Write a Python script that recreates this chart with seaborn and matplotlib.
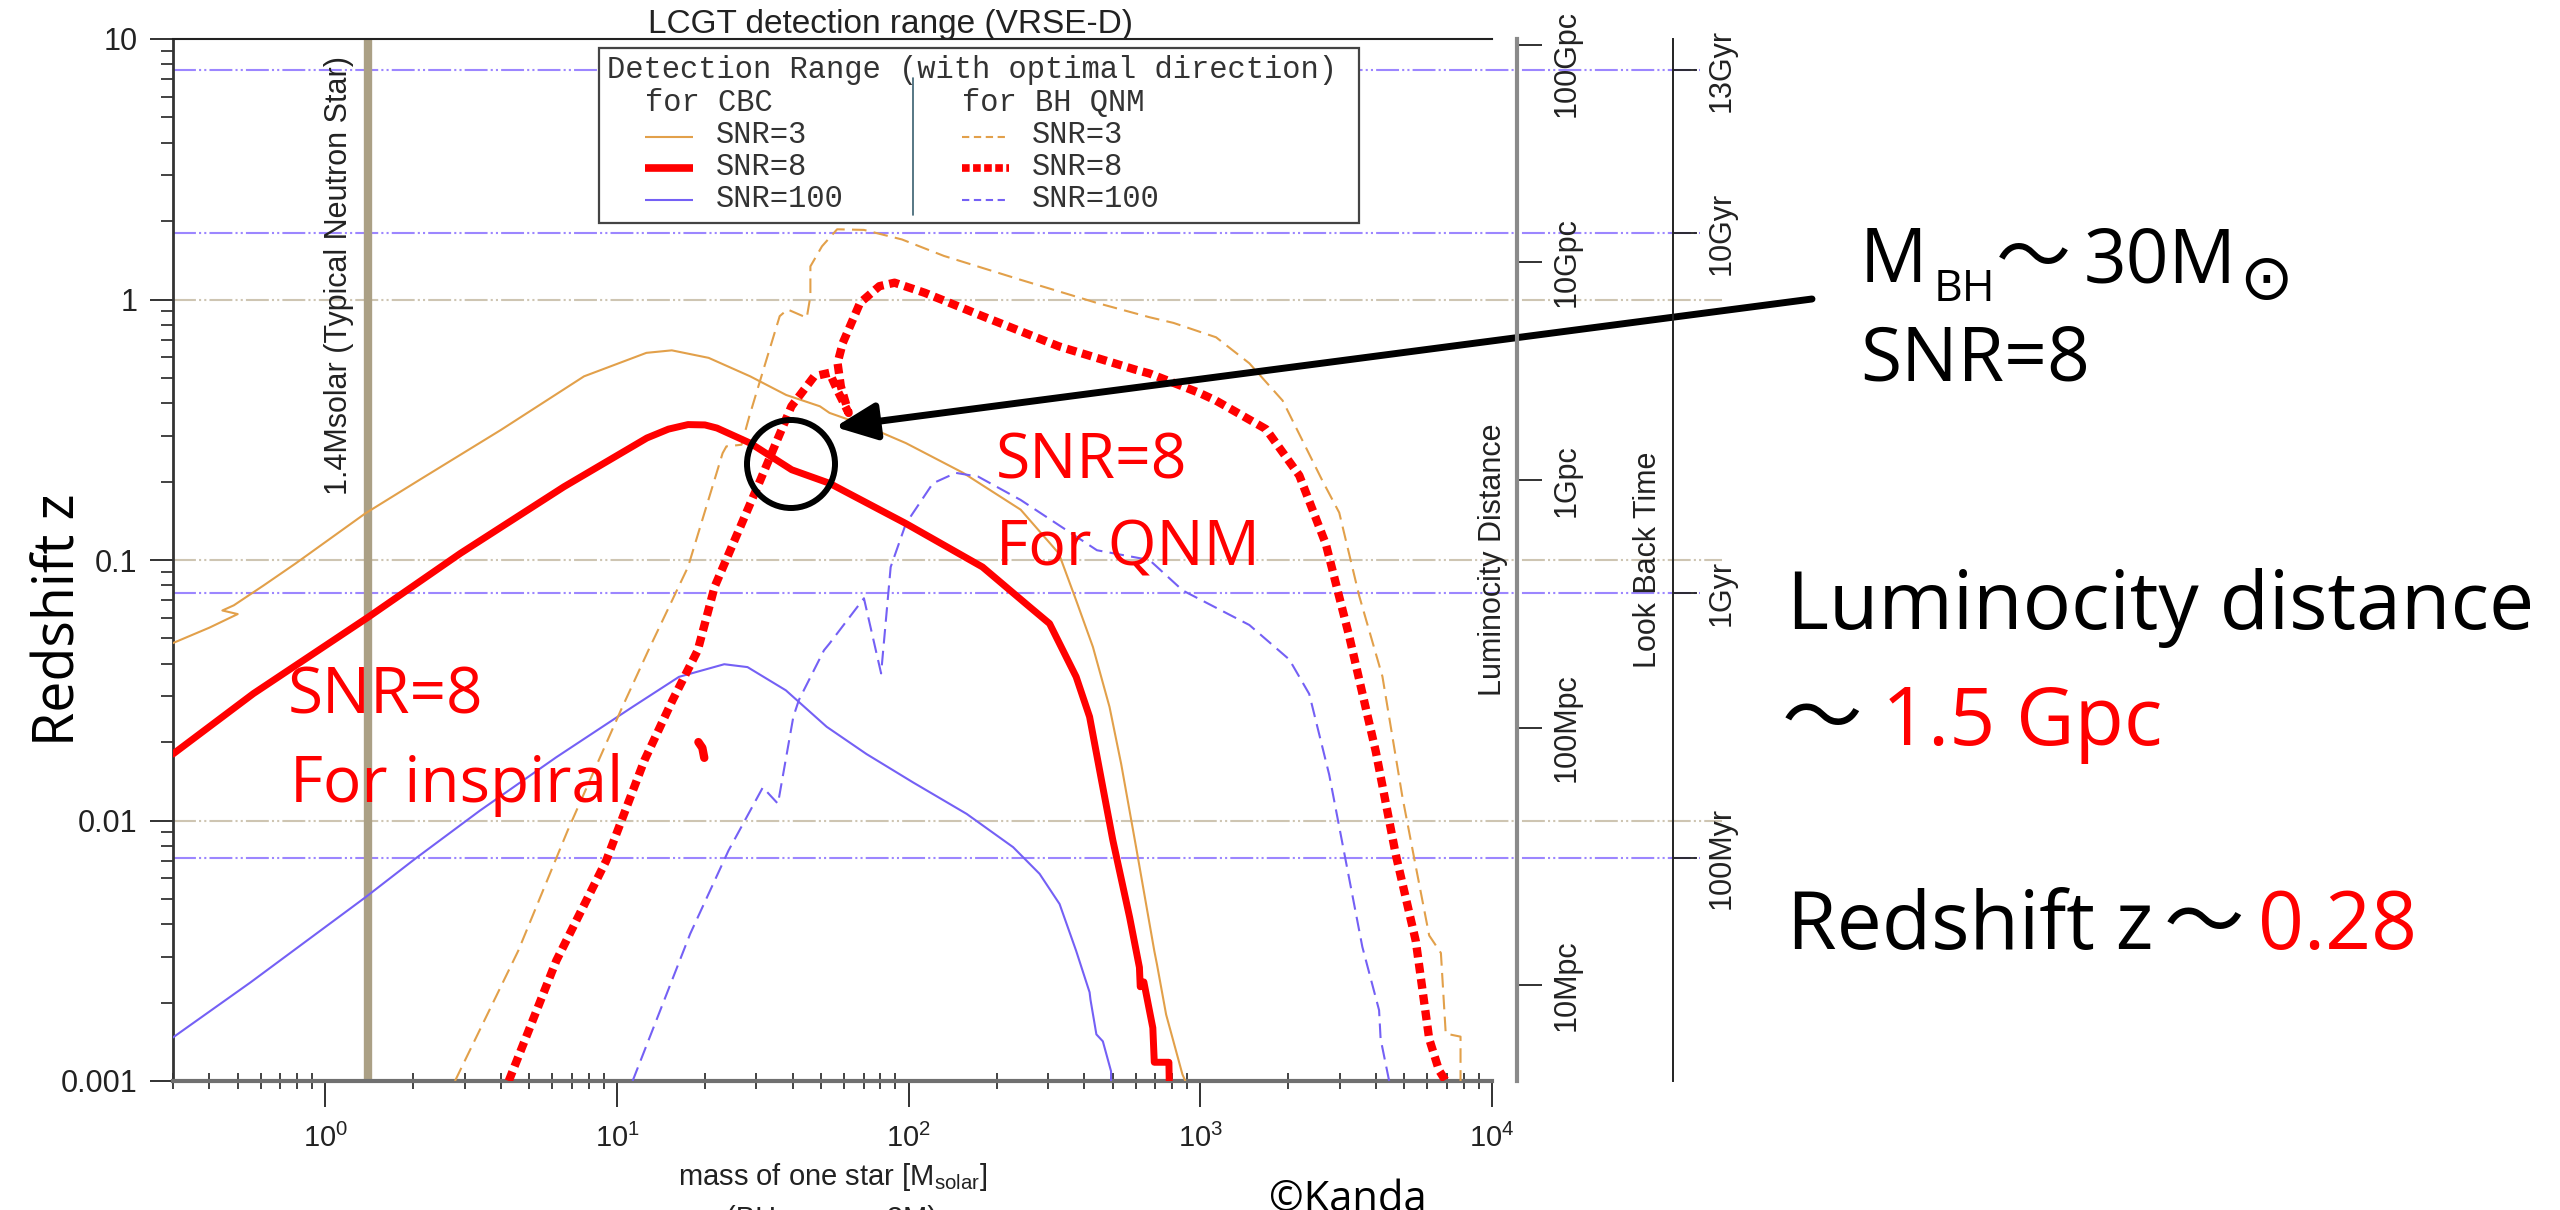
import numpy as np
import pandas as pd
import matplotlib
matplotlib.use("Agg")
import matplotlib.pyplot as plt
import matplotlib.patches as mpatches
import matplotlib.transforms as mtransforms
from matplotlib.lines import Line2D
from matplotlib.ticker import LogLocator, NullLocator, NullFormatter
import seaborn as sns

# ---------------- data ----------------
# CBC (inspiral) detection range, redshift z vs mass of one star
cbc3_m = [0.3, 0.40, 0.50, 0.443, 0.485, 0.615, 0.79, 1.37, 2.1, 4.0, 7.7, 12.6, 15.4, 20.6, 28.6,
          38.0, 49.6, 53.5, 70.0, 97.8, 153.7, 242, 327, 375, 428, 488, 535, 602, 695, 710, 763, 868, 888]
cbc3_z = [0.048, 0.055, 0.062, 0.064, 0.067, 0.080, 0.097, 0.151, 0.203, 0.316, 0.507, 0.624, 0.638,
          0.597, 0.507, 0.43, 0.389, 0.367, 0.33, 0.281, 0.216, 0.156, 0.106, 0.070, 0.0464, 0.0273,
          0.0165, 0.0079, 0.00316, 0.0028, 0.0018, 0.00106, 0.001]

cbc8_m = [0.3, 0.566, 1.406, 2.9, 6.57, 12.65, 15.0, 17.5, 20.0, 22.0, 28.6, 39.7, 53.5, 97.8, 179,
          260, 304, 375, 417, 463, 501, 572, 618, 622, 640, 687, 695, 780, 782]
cbc8_z = [0.018, 0.0307, 0.0605, 0.106, 0.191, 0.294, 0.318, 0.331, 0.330, 0.321, 0.281, 0.222,
          0.197, 0.138, 0.094, 0.066, 0.057, 0.0356, 0.025, 0.0134, 0.0084, 0.00425, 0.00273,
          0.0023, 0.0024, 0.0016, 0.00118, 0.00118, 0.001]

cbc100_m = [0.3, 0.553, 1.37, 2.03, 3.38, 6.19, 11.3, 16.3, 23.3, 28.0, 37.9, 52.3, 71.6, 103.5,
            158, 228, 281, 329, 375, 417, 420, 440, 463, 494, 494]
cbc100_z = [0.00147, 0.00239, 0.00507, 0.00713, 0.0109, 0.0175, 0.0273, 0.0356, 0.0398, 0.0388,
            0.0316, 0.0229, 0.0180, 0.0140, 0.0106, 0.0079, 0.00624, 0.00478, 0.00316, 0.00219,
            0.00205, 0.00151, 0.00142, 0.00109, 0.001]

# BH quasi-normal-mode detection range
qnm3_m = [2.78, 4.58, 6.77, 10.3, 12.8, 17.5, 23.0, 23.7, 26.7, 28.4, 32.0, 36.1, 38.4, 44.7, 46.0,
          46.0, 50.4, 56.8, 70.2, 94.8, 132, 242, 442, 669, 809, 1132, 1472, 1915, 2624, 2993, 3506,
          4210, 4930, 5480, 6090, 6680, 6940, 7800, 7800]
qnm3_z = [0.001, 0.00316, 0.00916, 0.0265, 0.045, 0.094, 0.257, 0.273, 0.277, 0.356, 0.554, 0.863,
          0.916, 0.851, 1.03, 1.34, 1.60, 1.86, 1.85, 1.70, 1.47, 1.19, 0.97, 0.855, 0.813, 0.716,
          0.569, 0.409, 0.201, 0.152, 0.0727, 0.0357, 0.0123, 0.00665, 0.00362, 0.0031, 0.00152,
          0.00148, 0.001]

qnm8_m = [4.25, 6.19, 9.17, 12.4, 15.5, 18.9, 21.6, 31.0, 39.6, 47.4, 53.5, 56.8, 62.2, 58.5, 57.0,
          59.4, 68.1, 79.3, 89.4, 113.7, 179, 327, 598, 669, 992, 1132, 1679, 2184, 2694, 3240,
          3995, 4680, 5480, 6090, 6580, 6940]
qnm8_z = [0.001, 0.0029, 0.0070, 0.017, 0.029, 0.045, 0.079, 0.203, 0.389, 0.507, 0.523, 0.45,
          0.367, 0.464, 0.571, 0.681, 0.971, 1.125, 1.16, 1.06, 0.863, 0.661, 0.538, 0.52, 0.438,
          0.409, 0.318, 0.211, 0.115, 0.0509, 0.0184, 0.00738, 0.00344, 0.00145, 0.0011, 0.001]

qnm100_m = [11.3, 17.8, 24.1, 31.6, 35.6, 40.2, 42.0, 51.2, 53.5, 70.2, 80.4, 86.7, 97.8, 121, 145,
            173, 242, 442, 669, 870, 1472, 2018, 2362, 2765, 3070, 3593, 4100, 4150, 4440]
qnm100_z = [0.001, 0.00367, 0.00767, 0.0134, 0.0116, 0.025, 0.029, 0.045, 0.0478, 0.0713, 0.0367,
            0.094, 0.138, 0.197, 0.216, 0.209, 0.170, 0.109, 0.100, 0.0764, 0.0563, 0.0415, 0.0306,
            0.0150, 0.00816, 0.00327, 0.00187, 0.00145, 0.001]

# small isolated fragment of the QNM SNR=8 curve
frag_m = [19.0, 19.6, 19.9]
frag_z = [0.0200, 0.0190, 0.0174]

ns_mass = 1.4
grid_z = [1, 0.1, 0.01]

ytick_vals = [10, 1, 0.1, 0.01, 0.001]
ytick_labels = ["10", "1", "0.1", "0.01", "0.001"]
xtick_vals = [1, 10, 100, 1000, 10000]
xtick_labels = [r"$10^{0}$", r"$10^{1}$", r"$10^{2}$", r"$10^{3}$", r"$10^{4}$"]

lum_z = [9.5, 1.39, 0.202, 0.0227, 0.00233]
lum_labels = ["100Gpc", "10Gpc", "1Gpc", "100Mpc", "10Mpc"]
lbt_z = [7.6, 1.80, 0.0747, 0.0072]
lbt_labels = ["13Gyr", "10Gyr", "1Gyr", "100Myr"]

# ---------------- style ----------------
sns.set_style("ticks")
plt.rcParams['font.family'] = ['Liberation Sans', 'DejaVu Sans']
plt.rcParams['mathtext.fontset'] = 'custom'
plt.rcParams['mathtext.rm'] = 'Liberation Sans'
plt.rcParams['mathtext.it'] = 'Liberation Sans:italic'
plt.rcParams['mathtext.bf'] = 'Liberation Sans:bold'
plt.rcParams['text.color'] = '#222222'

ANN = ['Open Sans', 'Noto Sans CJK JP', 'DejaVu Sans']
MONO = ['Liberation Mono', 'DejaVu Sans Mono']

ORANGE = '#E2A04A'
RED = '#FF0000'
PURPLE = '#7460F5'
TAN = '#ABA085'
GRID_TAN = '#CEC5B2'
GRID_PURP = '#9C86FF'

W, H = 2560, 1210
fig = plt.figure(figsize=(W / 100, H / 100), dpi=100)
AX_L, AX_R, AX_T, AX_B = 173, 1492, 39, 1081
AXW = AX_R - AX_L
ax = fig.add_axes([AX_L / W, 1 - AX_B / H, AXW / W, (AX_B - AX_T) / H])
ax2 = ax.twinx()
ax3 = ax.twinx()

ax.set_xscale('log')
ax.set_yscale('log')
ax.set_xlim(0.3, 1e4)
ax.set_ylim(1e-3, 10)

def ax_x(px):
    return (px - AX_L) / AXW

blend = mtransforms.blended_transform_factory(ax.transAxes, ax.transData)

# horizontal reference lines
grid_ls = (0, (11, 1.5, 1, 1.5, 1, 1.5))
for g in grid_z:
    ax.plot([0, ax_x(1722)], [g, g], transform=blend, clip_on=False, color=GRID_TAN,
            lw=1.5, ls=grid_ls, zorder=1)
for g in lbt_z:
    ax.plot([0, ax_x(1700)], [g, g], transform=blend, clip_on=False, color=GRID_PURP,
            lw=1.5, ls=grid_ls, zorder=1)

# neutron star mass line
ax.axvline(ns_mass, color=TAN, lw=6, zorder=2)
ax.annotate('1.4Msolar (Typical Neutron Star)', xy=(ns_mass, 1),
            xycoords=mtransforms.blended_transform_factory(ax.transData, ax.transAxes),
            xytext=(-21, -12), textcoords='offset points', rotation=90,
            ha='center', va='top', fontsize=22, color='#222222')

# curves
def draw(m, z, color, lw, ls, zo):
    sns.lineplot(x=m, y=z, ax=ax, sort=False, estimator=None, color=color, lw=lw,
                 linestyle=ls, zorder=zo, legend=False)

DASH_THIN = (0, (7, 3.5))
DASH_THICK = (0, (1.2, 0.7))
draw(cbc3_m, cbc3_z, ORANGE, 1.5, '-', 3)
draw(cbc100_m, cbc100_z, PURPLE, 1.5, '-', 3)
draw(qnm3_m, qnm3_z, ORANGE, 1.5, DASH_THIN, 3)
draw(qnm100_m, qnm100_z, PURPLE, 1.5, DASH_THIN, 3)
draw(cbc8_m, cbc8_z, RED, 5, '-', 4)
draw(qnm8_m, qnm8_z, RED, 6, DASH_THICK, 4)
draw(frag_m, frag_z, RED, 6, '-', 4)

# axes decoration
ax.set_yticks(ytick_vals, labels=ytick_labels)
ax.set_xticks(xtick_vals, labels=xtick_labels)
ax.xaxis.set_minor_locator(LogLocator(base=10, subs=np.arange(2, 10), numticks=100))
ax.yaxis.set_minor_locator(LogLocator(base=10, subs=np.arange(2, 10), numticks=100))
ax.xaxis.set_minor_formatter(NullFormatter())
ax.yaxis.set_minor_formatter(NullFormatter())
ax.tick_params(axis='y', which='major', direction='out', length=16.5, width=1.3,
               labelsize=22, pad=9, color='#222222', labelcolor='#222222')
ax.tick_params(axis='y', which='minor', direction='out', length=9, width=1.2, color='#222222')
ax.tick_params(axis='x', which='major', direction='out', length=18.5, width=1.3,
               labelsize=21, pad=12, color='#222222', labelcolor='#222222')
ax.tick_params(axis='x', which='minor', direction='inout', length=12, width=1.2, color='#222222')
ax.spines['right'].set_visible(False)
ax.spines['top'].set_color('#222222')
ax.spines['top'].set_linewidth(1.5)
ax.spines['left'].set_color('#333333')
ax.spines['left'].set_linewidth(2)
ax.spines['bottom'].set_color('#707070')
ax.spines['bottom'].set_linewidth(3)

ax.set_xlabel('mass of one star [M$_{\\mathrm{solar}}$]', fontsize=21, labelpad=6, color='#222222')
ax.set_ylabel('Redshift z', fontsize=40, family=ANN, color='black')
ax.yaxis.label.set_va('center')
ax.yaxis.set_label_coords(ax_x(60), (AX_B - 620) / (AX_B - AX_T))

# luminosity distance and look-back-time axes
for a in (ax2, ax3):
    a.set_yscale('log')
    a.set_ylim(1e-3, 10)
    for s in ('top', 'bottom', 'left'):
        a.spines[s].set_visible(False)
    a.yaxis.set_minor_locator(NullLocator())
ax2.spines['right'].set_position(('axes', ax_x(1517)))
ax2.spines['right'].set_color('#8a8a8a')
ax2.spines['right'].set_linewidth(3)
ax2.set_yticks(lum_z, labels=[''] * len(lum_z))
ax2.tick_params(axis='y', which='major', direction='out', length=18, width=1.3, color='#222222')
ax3.spines['right'].set_position(('axes', ax_x(1673)))
ax3.spines['right'].set_color('#222222')
ax3.spines['right'].set_linewidth(1.4)
ax3.set_yticks(lbt_z, labels=[''] * len(lbt_z))
ax3.tick_params(axis='y', which='major', direction='out', length=17, width=1.3, color='#222222')

for i, (zv, lab) in enumerate(zip(lum_z, lum_labels)):
    if i == 0:
        ax.text(ax_x(1567), (AX_B - 10) / (AX_B - AX_T), lab, transform=ax.transAxes,
                rotation=90, ha='center', va='top', fontsize=22, clip_on=False, color='#222222')
    else:
        ax.text(ax_x(1567), zv, lab, transform=blend, rotation=90, ha='center', va='center',
                fontsize=22, clip_on=False, color='#222222')
for zv, lab in zip(lbt_z, lbt_labels):
    ax.text(ax_x(1722), zv, lab, transform=blend, rotation=90, ha='center', va='center',
            fontsize=22, clip_on=False, color='#222222')
ax.text(ax_x(1493), 0.5, 'Luminocity Distance', transform=ax.transAxes, rotation=90,
        ha='center', va='center', fontsize=22, clip_on=False, color='#222222')
ax.text(ax_x(1648), 0.5, 'Look Back Time', transform=ax.transAxes, rotation=90,
        ha='center', va='center', fontsize=22, clip_on=False, color='#222222')

# ---------------- figure-level helpers ----------------
def fx(px):
    return px / W

def fy(py):
    return 1 - py / H

def ftxt(x, y, s, **kw):
    kw.setdefault('va', 'baseline')
    kw.setdefault('ha', 'left')
    return fig.text(fx(x), fy(y), s, **kw)

# title
ftxt(890, 33, 'LCGT detection range (VRSE-D)', ha='center', fontsize=24, color='#222222')

# legend box (manual, two columns)
fig.add_artist(mpatches.Rectangle((fx(599), fy(223)), (1359 - 599) / W, (223 - 48) / H,
                                  transform=fig.transFigure, facecolor='white',
                                  edgecolor='#444444', lw=1.6, zorder=5))
ftxt(607, 78, 'Detection Range (with optimal direction)', family=MONO, fontsize=22,
     color='#333333', zorder=6)
ftxt(645, 111, 'for CBC', family=MONO, fontsize=22, color='#333333', zorder=6)
ftxt(962, 111, 'for BH QNM', family=MONO, fontsize=22, color='#333333', zorder=6)
fig.add_artist(Line2D([fx(913), fx(913)], [fy(78), fy(215)], transform=fig.transFigure,
                      color='#3a6070', lw=1.2, zorder=6))
leg_rows = [('SNR=3', ORANGE, 1.5, (0, (3.5, 2.2)), 137, 143),
            ('SNR=8', RED, 5.5, (0, (1.0, 0.45)), 168, 175),
            ('SNR=100', PURPLE, 1.5, (0, (3.5, 2.2)), 200, 207)]
for lab, col, lw, dash, ly, ty in leg_rows:
    fig.add_artist(Line2D([fx(645), fx(693)], [fy(ly), fy(ly)], transform=fig.transFigure,
                          color=col, lw=lw, zorder=6, solid_capstyle='butt'))
    ftxt(716, ty, lab, family=MONO, fontsize=22, color='#333333', zorder=6)
    fig.add_artist(Line2D([fx(962), fx(1009)], [fy(ly), fy(ly)], transform=fig.transFigure,
                          color=col, lw=lw, ls=dash, zorder=6, dash_capstyle='butt'))
    ftxt(1032, ty, lab, family=MONO, fontsize=22, color='#333333', zorder=6)

# annotations in the plot
ftxt(996, 478, 'SNR=8', family=ANN, fontsize=45, color=RED, zorder=7)
ftxt(996, 565, 'For QNM', family=ANN, fontsize=45, color=RED, zorder=7)
ftxt(288, 713, 'SNR=8', family=ANN, fontsize=46, color=RED, zorder=7)
ftxt(290, 802, 'For inspiral', family=ANN, fontsize=46, color=RED, zorder=7)

# circle + arrow
fig.add_artist(mpatches.Circle((791 / 100, (H - 464) / 100), 0.44, transform=fig.dpi_scale_trans,
                               fill=False, ec='black', lw=4.3, zorder=8))
ann = ax.annotate('', xy=(835 / 100, (H - 427) / 100), xycoords=fig.dpi_scale_trans,
                  xytext=(1812 / 100, (H - 299) / 100), textcoords=fig.dpi_scale_trans,
                  arrowprops=dict(arrowstyle='-|>,head_length=1.0,head_width=0.45',
                                  mutation_scale=25, lw=5, color='black',
                                  shrinkA=0, shrinkB=0))
ann.set_zorder(10)

# right-hand annotations
ftxt(1860, 282, 'M', family=ANN, fontsize=54, color='black')
ftxt(1934, 301, 'BH', family=ANN, fontsize=32, color='black')
ftxt(1996, 282, '～', family=ANN, fontsize=54, color='black')
ftxt(2084, 282, '30M', family=ANN, fontsize=54, color='black')
fig.text(fx(2266), fy(281), '⊙', family=['DejaVu Sans'], fontsize=46, color='black',
         ha='center', va='center')
ftxt(1860, 380, 'SNR=8', family=ANN, fontsize=54, color='black')
ftxt(1787, 629, 'Luminocity distance', family=ANN, fontsize=58, color='black')
ftxt(1782, 745, '～', family=ANN, fontsize=58, color='black')
ftxt(1882, 745, '1.5 Gpc', family=ANN, fontsize=58, color=RED)
ftxt(1787, 949, 'Redshift z', family=ANN, fontsize=58, color='black')
ftxt(2164, 949, '～', family=ANN, fontsize=58, color='black')
ftxt(2258, 949, '0.28', family=ANN, fontsize=58, color=RED)

# bottom texts (partly cut by the page edge, as in the reference)
ftxt(831, 1205, '(BH mass = 2M)', ha='center', va='top', fontsize=21, color='#222222')
ftxt(1269, 1211, '©Kanda', family=ANN, fontsize=30, color='black')

fig.savefig('out.png', dpi=100)
